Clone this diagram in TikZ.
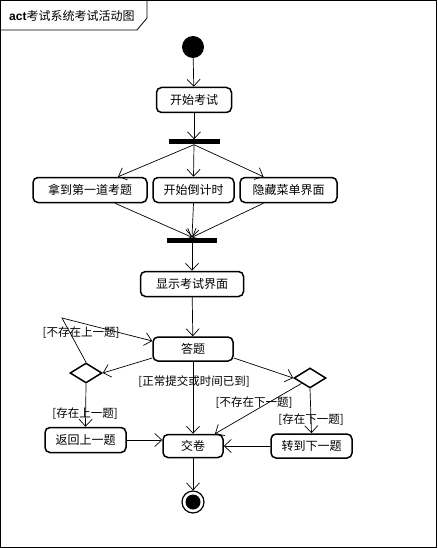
\documentclass[tikz,border=0pt]{standalone}
\usepackage{fontspec}
\setmainfont{Noto Sans CJK SC}
\newfontfamily\latinfont{Liberation Sans}
\usepackage{tikz}
\usetikzlibrary{arrows.meta,shapes.geometric}

\tikzset{
    activity/.style={draw, line width=1.5pt, rounded corners=5pt, minimum height=25pt, inner sep=2pt, font=\fontsize{12}{14}\selectfont},
    bar/.style={fill=black, inner sep=0pt, minimum height=5pt},
    decision/.style={diamond, draw, line width=1.5pt, inner sep=0pt, minimum width=32pt, minimum height=20pt},
    guard/.style={inner sep=1pt, font=\fontsize{11.5}{13}\selectfont},
    arr/.style={line width=0.7pt, -{Straight Barb[length=7pt,width=13pt,line width=0.7pt]}}
}

\begin{document}
\begin{tikzpicture}[x=1pt,y=-1pt]
    \useasboundingbox (0,0) rectangle (437,548);

    % Draw the frame and its title tab
    \draw[line width=0.8pt] (0.5,0.5) rectangle (436.5,547.5);
    \draw[line width=0.8pt] (0.5,30) -- (137,30) -- (147,18) -- (147,0.5);
    \node[anchor=west, inner sep=0pt, font=\fontsize{12}{14}\selectfont] (title) at (9,16) {{\latinfont\bfseries act}考试系统考试活动图};

    % Draw the start and the first activity
    \node[circle, fill=black, minimum size=22pt, inner sep=0pt] (start) at (193,47) {};
    \node[activity, minimum width=75pt] (begin) at (194,100) {开始考试};
    \draw[arr] (start) -- (begin);

    % Draw the fork and the parallel activities
    \node[bar, minimum width=51pt] (fork) at (194,142) {};
    \node[activity, minimum width=114pt] (getq) at (90,190) {拿到第一道考题};
    \node[activity, minimum width=81pt] (timer) at (193.5,190) {开始倒计时};
    \node[activity, minimum width=97pt] (hide) at (288.5,190) {隐藏菜单界面};
    \draw[arr] (begin) -- (fork);
    \draw[arr] (fork.south) -- ([xshift=28pt]getq.north);
    \draw[arr] (fork.south) -- (timer.north);
    \draw[arr] (fork.south) -- ([xshift=-25pt]hide.north);

    % Draw the join
    \node[bar, minimum width=50pt] (join) at (192,240) {};
    \draw[arr] ([xshift=25pt]getq.south) -- (join.north);
    \draw[arr] (timer.south) -- (join.north);
    \draw[arr] ([xshift=-25pt]hide.south) -- (join.north);

    % Draw the exam screen and answering
    \node[activity, minimum width=103pt] (show) at (192,284) {显示考试界面};
    \node[activity, minimum width=80pt, minimum height=24pt] (answer) at (193,349) {答题};
    \draw[arr] (join.south) -- (show);
    \draw[arr] (show) -- (answer);

    % Draw the decisions
    \node[decision] (ldec) at (86,373) {};
    \node[decision] (rdec) at (310,378) {};
    \draw[arr] ([yshift=-9pt]answer.west) -- (ldec.east);
    \draw[arr] ([yshift=-9pt]answer.east) -- (rdec.west);

    % Draw the loop back to answering
    \coordinate (loopturn) at (62,318);
    \draw[arr] (ldec.north) -- (loopturn) -- ([yshift=8pt]answer.west);
    \node[guard] (gnoprev) at (81,333) {[不存在上一题]};

    % Draw the lower activities
    \node[activity, minimum width=81pt] (back) at (85.5,440) {返回上一题};
    \node[activity, minimum width=60pt, minimum height=23pt] (submit) at (193,446) {交卷};
    \node[activity, minimum width=81pt, minimum height=24pt] (next) at (311.5,446) {转到下一题};
    \draw[arr] (ldec.south) -- (back.north);
    \node[guard] (gprev) at (85,414) {[存在上一题]};
    \draw[arr] (back.east |- 0,440) -- (submit.west |- 0,440);
    \draw[arr] (answer.south) -- (submit.north);
    \node[guard] (gsubmit) at (194,382) {[正常提交或时间已到]};
    \draw[arr] (rdec.south west) -- ([xshift=22pt]submit.north);
    \node[guard] (gnonext) at (254,403) {[不存在下一题]};
    \draw[arr] (rdec.south) -- (next.north);
    \node[guard] (gnext) at (311,420) {[存在下一题]};
    \draw[arr] (next.west) -- (submit.east);

    % Draw the end
    \node[circle, draw, line width=1.2pt, minimum size=22pt, inner sep=0pt] (stop) at (193,502) {};
    \fill (stop) circle (7.5pt);
    \draw[arr] (submit.south) -- (stop.north);
\end{tikzpicture}
\end{document}
